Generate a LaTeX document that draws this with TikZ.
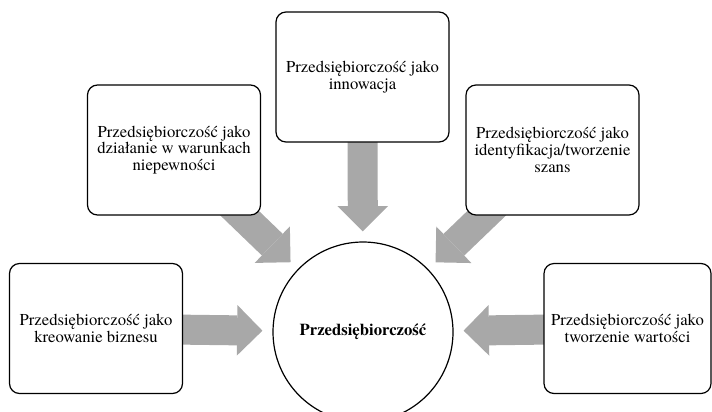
\documentclass[tikz,border=0pt]{standalone}
\usepackage{fontspec}
\setmainfont{texgyretermes}[Extension=.otf, UprightFont=*-regular,
  BoldFont=*-bold, ItalicFont=*-italic, BoldItalicFont=*-bolditalic]
\usetikzlibrary{arrows.meta, backgrounds}
\definecolor{arrowgray}{RGB}{168,168,168}

\tikzset{
  box/.style={draw, line width=0.9pt, rounded corners=7.5pt, fill=white,
    minimum width=129.75pt, minimum height=97.5pt, align=center,
    font=\fontsize{12.5}{12.5}\selectfont},
  hub/.style={draw, circle, line width=0.9pt, fill=white, minimum size=135pt,
    inner sep=0pt, font=\fontsize{12.5}{12.5}\selectfont\bfseries},
  push/.style={draw=arrowgray, line width=22.5pt, shorten >=7.5pt,
    -{Triangle[width=38pt, length=19pt, line width=0pt]}}
}

\begin{document}
\begin{tikzpicture}[x=0.75pt, y=-0.75pt]
  \useasboundingbox (0,0) rectangle (712,411);

  \coordinate (C) at (363,332);
  \coordinate (T) at (362.5,77);
  \coordinate (UL) at (174,150);
  \coordinate (UR) at (552.5,150);
  \coordinate (L) at (96,328.5);
  \coordinate (R) at (627.5,328.5);

  \node[hub] (core) at (C) {Przedsiębiorczość};
  \node[box] (innov) at (T) {Przedsiębiorczość jako\\innowacja};
  \node[box] (risk) at (UL) {Przedsiębiorczość jako\\działanie w warunkach\\niepewności};
  \node[box] (chance) at (UR) {Przedsiębiorczość jako\\identyfikacja/tworzenie\\szans};
  \node[box] (biz) at (L) {Przedsiębiorczość jako\\kreowanie biznesu};
  \node[box, minimum width=125.25pt] (value) at (R) {Przedsiębiorczość jako\\tworzenie wartości};

  \begin{pgfonlayer}{background}
    \draw[push] (innov.center) -- (core);
    \draw[push] (risk.center) -- (core);
    \draw[push] (chance.center) -- (core);
    \draw[push] (biz.center) -- (core);
    \draw[push] (value.center) -- (core);
  \end{pgfonlayer}
\end{tikzpicture}
\end{document}
